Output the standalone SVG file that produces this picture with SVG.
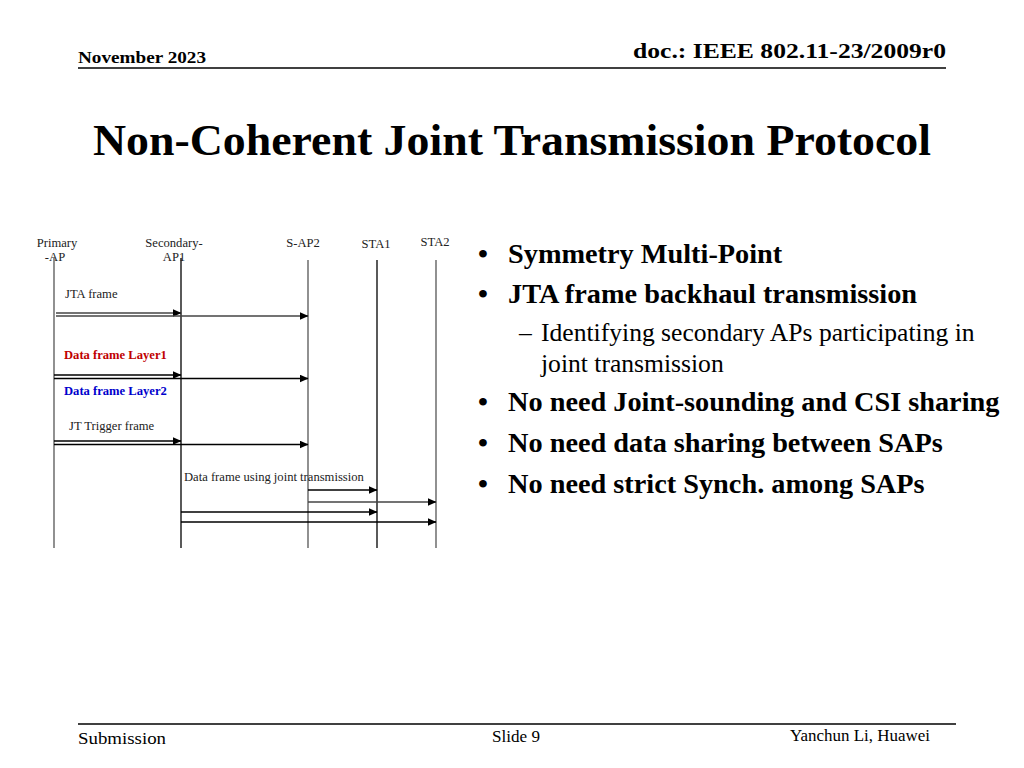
<svg xmlns="http://www.w3.org/2000/svg" width="1024" height="768" viewBox="0 0 1024 768">
<style>
text{font-family:"Liberation Serif","Times New Roman",serif;fill:#000}
.hdr{font-weight:bold;font-size:17px}
.doc{font-weight:bold;font-size:22px}
.title{font-weight:bold;font-size:45px}
.b{font-weight:bold;font-size:28.3px}
.s{font-size:25.6px}
.ft{font-size:17px}
.lbl{font-size:12.6px;fill:#222}
.life{stroke:#000;stroke-width:1.3}
.life2{stroke:#555;stroke-width:1.3}
.msg{stroke:#000;stroke-width:1.3;fill:none}
.msg2{stroke:#444;stroke-width:1.5;fill:none}
</style>
<defs>
<marker id="ah" markerWidth="9" markerHeight="8" refX="8.5" refY="4" orient="auto" markerUnits="userSpaceOnUse">
<path d="M0,0 L9,4 L0,8 Z" fill="#000"/>
</marker>
</defs>
<rect width="1024" height="768" fill="#fff"/>
<g id="header">
<text class="hdr" x="78" y="63" textLength="128" lengthAdjust="spacingAndGlyphs">November 2023</text>
<text class="doc" x="946" y="58" text-anchor="end" textLength="313" lengthAdjust="spacingAndGlyphs">doc.: IEEE 802.11-23/2009r0</text>
<line x1="78" y1="68" x2="946" y2="68" stroke="#000" stroke-width="1.5"/>
</g>
<g id="title">
<text class="title" x="93" y="155" textLength="838" lengthAdjust="spacingAndGlyphs">Non-Coherent Joint Transmission Protocol</text>
</g>
<g id="lifelines">
<g id="primary-ap">
<text class="lbl" x="57" y="247" text-anchor="middle">Primary</text>
<text class="lbl" x="55" y="261" text-anchor="middle">-AP</text>
<line class="life2" x1="54" y1="258" x2="54" y2="548"/>
</g>
<g id="secondary-ap1">
<text class="lbl" x="174" y="247" text-anchor="middle">Secondary-</text>
<text class="lbl" x="174" y="261" text-anchor="middle">AP1</text>
<line class="life" x1="181" y1="258" x2="181" y2="548"/>
</g>
<g id="s-ap2">
<text class="lbl" x="303" y="247" text-anchor="middle">S-AP2</text>
<line class="life2" x1="308" y1="260" x2="308" y2="548"/>
</g>
<g id="sta1">
<text class="lbl" x="376" y="248" text-anchor="middle">STA1</text>
<line class="life" x1="377" y1="260" x2="377" y2="548"/>
</g>
<g id="sta2">
<text class="lbl" x="435" y="246" text-anchor="middle">STA2</text>
<line class="life2" x1="436" y1="260" x2="436" y2="548"/>
</g>
</g>
<g id="connectors">
<line class="msg2" x1="56" y1="313" x2="181" y2="313" marker-end="url(#ah)"/>
<line class="msg2" x1="56" y1="316" x2="308" y2="316" marker-end="url(#ah)"/>
<line class="msg" x1="54" y1="375" x2="181" y2="375" marker-end="url(#ah)"/>
<line class="msg" x1="54" y1="378.5" x2="308" y2="378.5" marker-end="url(#ah)"/>
<line class="msg" x1="54" y1="441" x2="181" y2="441" marker-end="url(#ah)"/>
<line class="msg" x1="54" y1="444.5" x2="308" y2="444.5" marker-end="url(#ah)"/>
<line class="msg" x1="308" y1="490" x2="377" y2="490" marker-end="url(#ah)"/>
<line class="msg2" x1="308" y1="502" x2="436" y2="502" marker-end="url(#ah)"/>
<line class="msg" x1="181" y1="512" x2="377" y2="512" marker-end="url(#ah)"/>
<line class="msg" x1="181" y1="522" x2="436" y2="522" marker-end="url(#ah)"/>
</g>
<g id="labels">
<text class="lbl" x="65" y="298">JTA frame</text>
<text class="lbl" x="64" y="359" style="font-weight:bold;fill:#c00000">Data frame Layer1</text>
<text class="lbl" x="64" y="395" style="font-weight:bold;fill:#0000cc">Data frame Layer2</text>
<text class="lbl" x="69" y="430">JT Trigger frame</text>
<text class="lbl" x="184" y="481">Data frame using joint transmission</text>
</g>
<g id="bullets">
<text class="b" x="478" y="263">•</text><text class="b" x="508" y="263">Symmetry Multi-Point</text>
<text class="b" x="478" y="303">•</text><text class="b" x="508" y="303">JTA frame backhaul transmission</text>
<text class="s" x="519" y="341">–</text><text class="s" x="541" y="341">Identifying secondary APs participating in</text>
<text class="s" x="541" y="372">joint transmission</text>
<text class="b" x="478" y="411">•</text><text class="b" x="508" y="411">No need Joint-sounding and CSI sharing</text>
<text class="b" x="478" y="452">•</text><text class="b" x="508" y="452">No need data sharing between SAPs</text>
<text class="b" x="478" y="493">•</text><text class="b" x="508" y="493">No need strict Synch. among SAPs</text>
</g>
<g id="footer">
<line x1="78" y1="724" x2="956" y2="724" stroke="#000" stroke-width="1.5"/>
<text class="ft" x="78" y="744" textLength="88" lengthAdjust="spacingAndGlyphs">Submission</text>
<text class="ft" x="516" y="742" text-anchor="middle" textLength="48" lengthAdjust="spacingAndGlyphs">Slide 9</text>
<text class="ft" x="930" y="741" text-anchor="end" textLength="140" lengthAdjust="spacingAndGlyphs">Yanchun Li, Huawei</text>
</g>
</svg>
